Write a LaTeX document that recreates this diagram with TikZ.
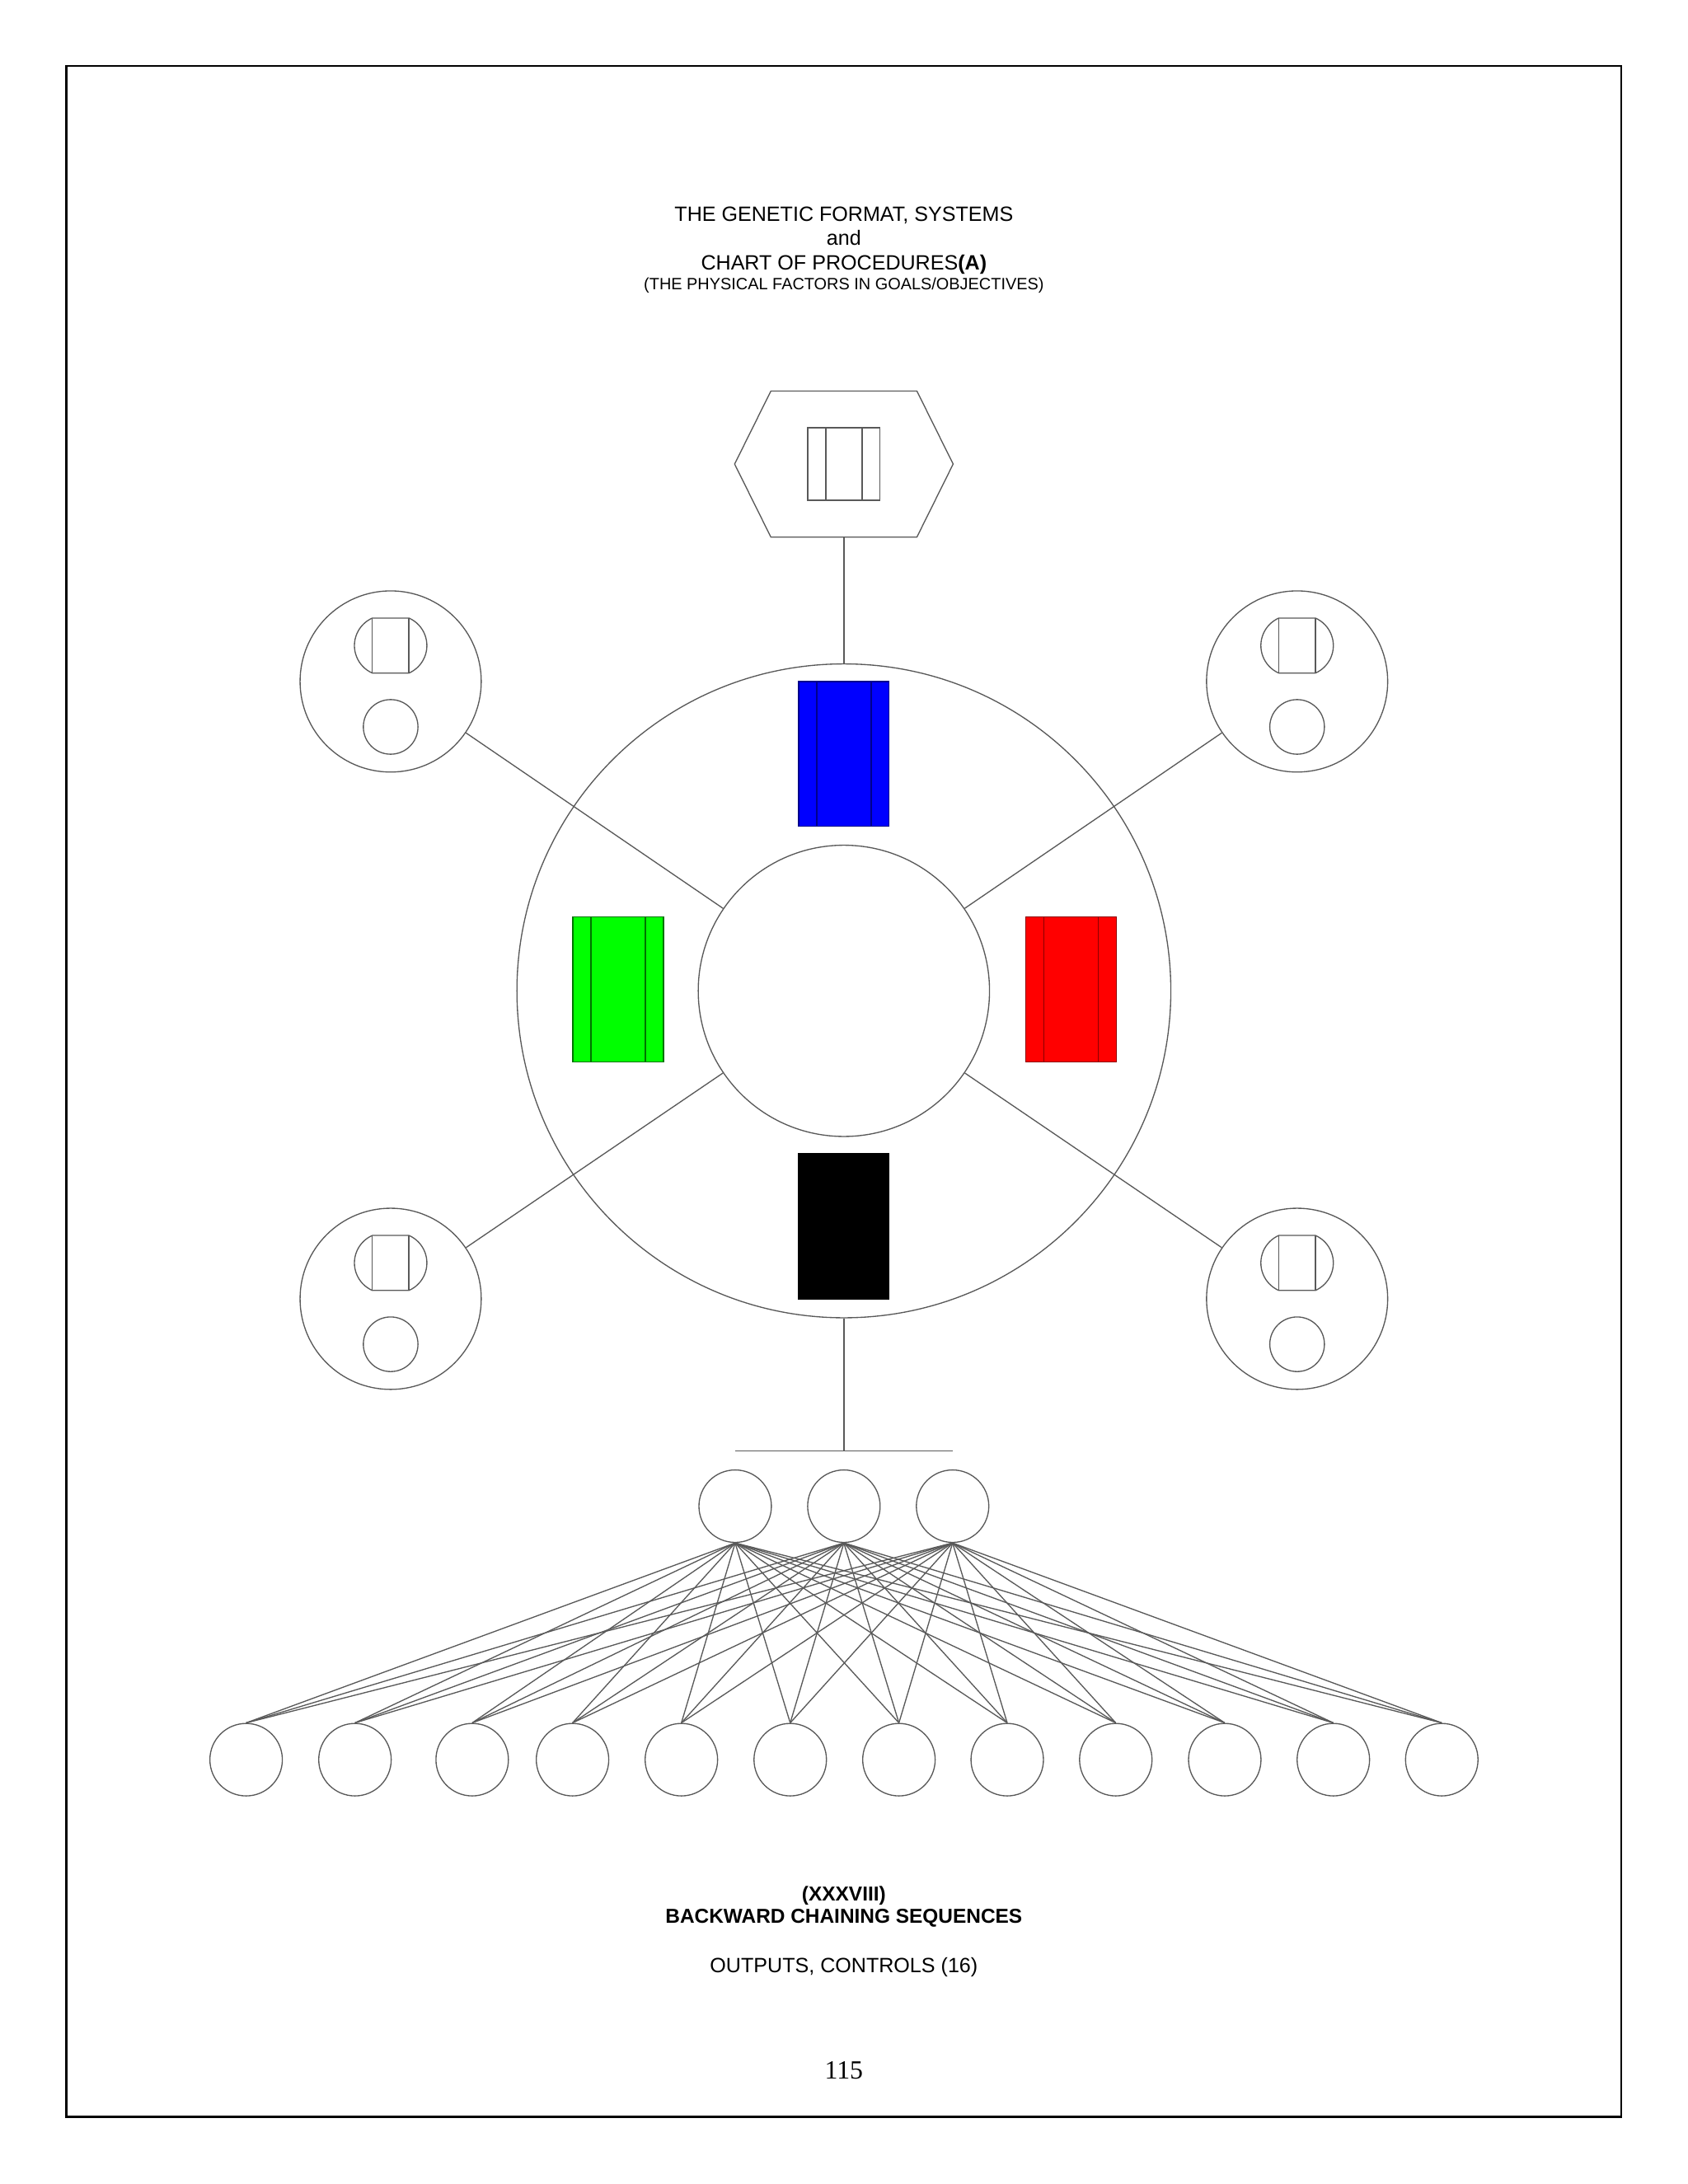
\documentclass[tikz,border=0pt]{standalone}
\usepackage{fontspec}
\setmainfont{Liberation Sans}
\newfontfamily\pagefont{Liberation Serif}
\usetikzlibrary{positioning,calc}
\newlength\dpx
\setlength\dpx{0.50537pt}

\begin{document}
\begin{tikzpicture}[
    x=0.50537pt, y=-0.50537pt,
    link/.style={draw=black!65, line width=0.4pt},
    ring/.style={circle, draw=black!65, line width=0.4pt, inner sep=0pt, minimum size=#1\dpx},
    panel/.style 2 args={rectangle, fill=#1, draw=#2, line width=0.4pt, inner sep=0pt, minimum width=65\dpx, minimum height=104\dpx,
        path picture={\draw[#2, line width=0.4pt] ([xshift=13\dpx]path picture bounding box.north west) -- ([xshift=13\dpx]path picture bounding box.south west)
            ([xshift=-13\dpx]path picture bounding box.north east) -- ([xshift=-13\dpx]path picture bounding box.south east);}},
    title/.style={font=\fontsize{7.5}{9}\selectfont, anchor=base, inner sep=0pt},
    caption/.style={font=\fontsize{7.3}{9}\selectfont\bfseries, anchor=base, inner sep=0pt}
]
\useasboundingbox (0,0) rectangle (1211,1567.2);

% Page frame
\draw[line width=0.8pt] (47.5,47.3) rectangle (1163.2,1519);

% Heading
\node[title] (t1) at (605.5,158.7) {THE GENETIC FORMAT, SYSTEMS};
\node[title] (t2) at (605.5,175.8) {and};
\node[title] (t3) at (605.5,193.6) {CHART OF PROCEDURES\textbf{(A)}};
\node[title, font=\fontsize{5.95}{7}\selectfont] (t4) at (605.5,207.6) {(THE PHYSICAL FACTORS IN GOALS/OBJECTIVES)};

% Top hexagon
\node[minimum width=156\dpx, minimum height=104\dpx, inner sep=0pt] (hex) at (605.5,333) {};
\draw[link] (hex.west) -- ([xshift=26\dpx]hex.north west) -- ([xshift=-26\dpx]hex.north east) -- (hex.east)
    -- ([xshift=-26\dpx]hex.south east) -- ([xshift=26\dpx]hex.south west) -- cycle;
\node[panel={white}{black!65}, minimum width=52\dpx, minimum height=52\dpx] (hexbox) at (hex) {};

% Central wheel
\node[ring=469.2] (wheel) at (605.5,711) {};
\node[ring=209] (hub) at (wheel) {};
\node[panel={blue}{blue!55!black}] (pn) at (605.5,541) {};
\node[panel={green}{green!45!black}] (pw) at (443.5,710) {};
\node[panel={red}{red!55!black}] (pe) at (768.5,710) {};
\node[panel={black}{black}] (ps) at (605.5,880) {};
\draw[link] (wheel) -- (hex);

% Satellites
\foreach \pos/\gx/\gy in {nw/280.3/489, ne/930.7/489, sw/280.3/932, se/930.7/932} {
    \node[ring=130] (sat\pos) at (\gx,\gy) {};
    \node[ring=39.2] (dot\pos) at (\gx,\gy+32.6) {};
    \begin{scope}[shift={(\gx,\gy-25.75)}]
        \draw[link] (13.1,-19.75) arc[start angle=-66.3, end angle=66.3, radius=21.57] -- (-13.1,19.75)
            arc[start angle=113.7, end angle=246.3, radius=21.57] -- cycle;
        \draw[link] (-13.1,-19.75) -- (-13.1,19.75) (13.1,-19.75) -- (13.1,19.75);
    \end{scope}
    \draw[link] (sat\pos) -- (hub);
}

% Lower tree
\coordinate (bar) at (605.5,1041.3);
\draw[link] (wheel) -- (bar);
\foreach \i/\mx in {1/527.5, 2/605.5, 3/683.5}
    \node[ring=52] (mid\i) at (\mx,1080.8) {};
\draw[link] (mid1 |- bar) -- (mid3 |- bar);

\foreach \j/\bx in {1/176.6, 2/254.7, 3/338.8, 4/410.8, 5/488.9, 6/567, 7/645, 8/722.7, 9/800.6, 10/878.8, 11/956.7, 12/1034.5}
    \node[ring=52] (leaf\j) at (\bx,1262.7) {};

\foreach \i in {1,2,3} {
    \foreach \j in {1,...,12} {
        \draw[link] (mid\i.south) -- (leaf\j.north);
    }
}

% Footer
\node[caption] (c1) at (605.5,1364) {(XXXVIII)};
\node[caption] (c2) at (605.5,1380.1) {BACKWARD CHAINING SEQUENCES};
\node[title] (c3) at (605.5,1415.2) {OUTPUTS, CONTROLS (16)};
\node[title, font=\pagefont\fontsize{9.5}{11}\selectfont] (pg) at (605.5,1491.5) {115};

\end{tikzpicture}
\end{document}
